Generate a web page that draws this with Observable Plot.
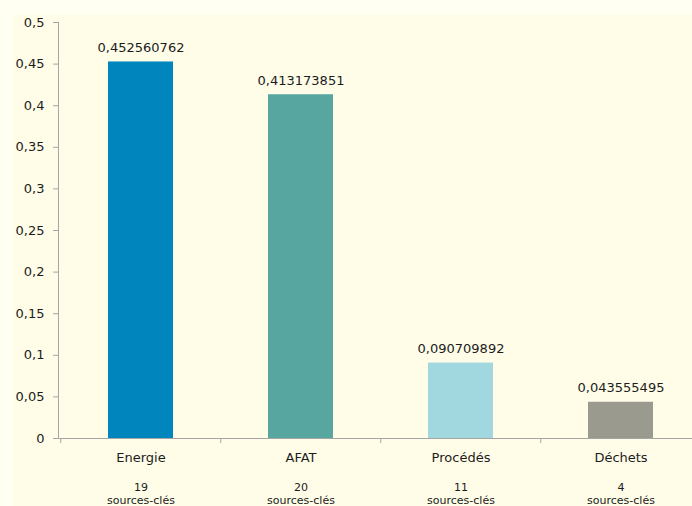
<!DOCTYPE html>
<html>
<head>
<meta charset="utf-8">
<script src="https://cdn.jsdelivr.net/npm/d3@7"></script>
<script src="https://cdn.jsdelivr.net/npm/@observablehq/plot@0.6"></script>
<style>
  html, body { margin: 0; padding: 0; overflow: hidden; background: #fffff2; }
  #wrap { position: relative; width: 692px; height: 506px; }
  #panel { position: absolute; left: 13px; top: 15px; right: 0; bottom: 0; background: #fffde8; }
  #chart { position: absolute; left: 0; top: 0; }
</style>
</head>
<body>
<div id="wrap">
  <div id="panel"></div>
  <div id="chart"></div>
</div>
<script>
// Secteurs et contribution de chacun
const categories = ["Energie", "AFAT", "Procédés", "Déchets"];
const values = [0.452560762, 0.413173851, 0.090709892, 0.043555495];
const keySources = [19, 20, 11, 4];
const colors = ["#0086bc", "#57a69f", "#a1d7df", "#9b9a8e"];
const yTicks = [0, 0.05, 0.1, 0.15, 0.2, 0.25, 0.3, 0.35, 0.4, 0.45, 0.5];

const data = categories.map((c, i) => ({
  category: c,
  value: values[i],
  sources: keySources[i],
  color: colors[i]
}));

const comma = (v) => String(v).replace(".", ",");
const font = "DejaVu Sans, Verdana, sans-serif";
const ink = "#1c1c1c";
const grey = "#a6a6a6";

// half a band step, used to place the separators between categories
const xRange = [59.5, 701.5];
const halfStep = (xRange[1] - xRange[0]) / categories.length / 2;

const chart = Plot.plot({
  width: 692,
  height: 506,
  marginTop: 22,
  marginBottom: 68,
  marginLeft: 58,
  marginRight: 0,
  style: { background: "transparent", fontFamily: font, color: ink, overflow: "hidden" },
  x: { domain: categories, range: xRange, paddingInner: 0.595, paddingOuter: 0.2975, axis: null },
  y: { domain: [0, 0.5], axis: null, label: null },
  marks: [
    Plot.barY(data, { x: "category", y: "value", fill: "color" }),
    Plot.frame({ anchor: "left", stroke: grey }),
    Plot.axisY({
      ticks: yTicks,
      tickFormat: comma,
      tickSize: 5,
      tickPadding: 9,
      fontSize: 13,
      label: null,
      stroke: grey,
      fill: ink
    }),
    Plot.ruleY([0], { stroke: grey }),
    // separators below the baseline between categories
    Plot.ruleX(categories, {
      x: (d) => d,
      y1: 0,
      y2: 0,
      dx: -halfStep,
      insetBottom: -5,
      stroke: grey
    }),
    Plot.text(data, {
      x: "category",
      y: "value",
      text: (d) => comma(d.value),
      dy: -14,
      fontSize: 13,
      fill: ink
    }),
    Plot.text(data, {
      x: "category",
      y: () => 0,
      text: "category",
      dy: 19,
      fontSize: 13,
      fill: ink
    }),
    Plot.text(data, {
      x: "category",
      y: () => 0,
      text: (d) => String(d.sources),
      dy: 48.5,
      fontSize: 11,
      fill: ink
    }),
    Plot.text(data, {
      x: "category",
      y: () => 0,
      text: () => "sources-clés",
      dy: 61.5,
      fontSize: 11,
      fill: ink
    })
  ]
});

document.getElementById("chart").append(chart);
</script>
</body>
</html>
